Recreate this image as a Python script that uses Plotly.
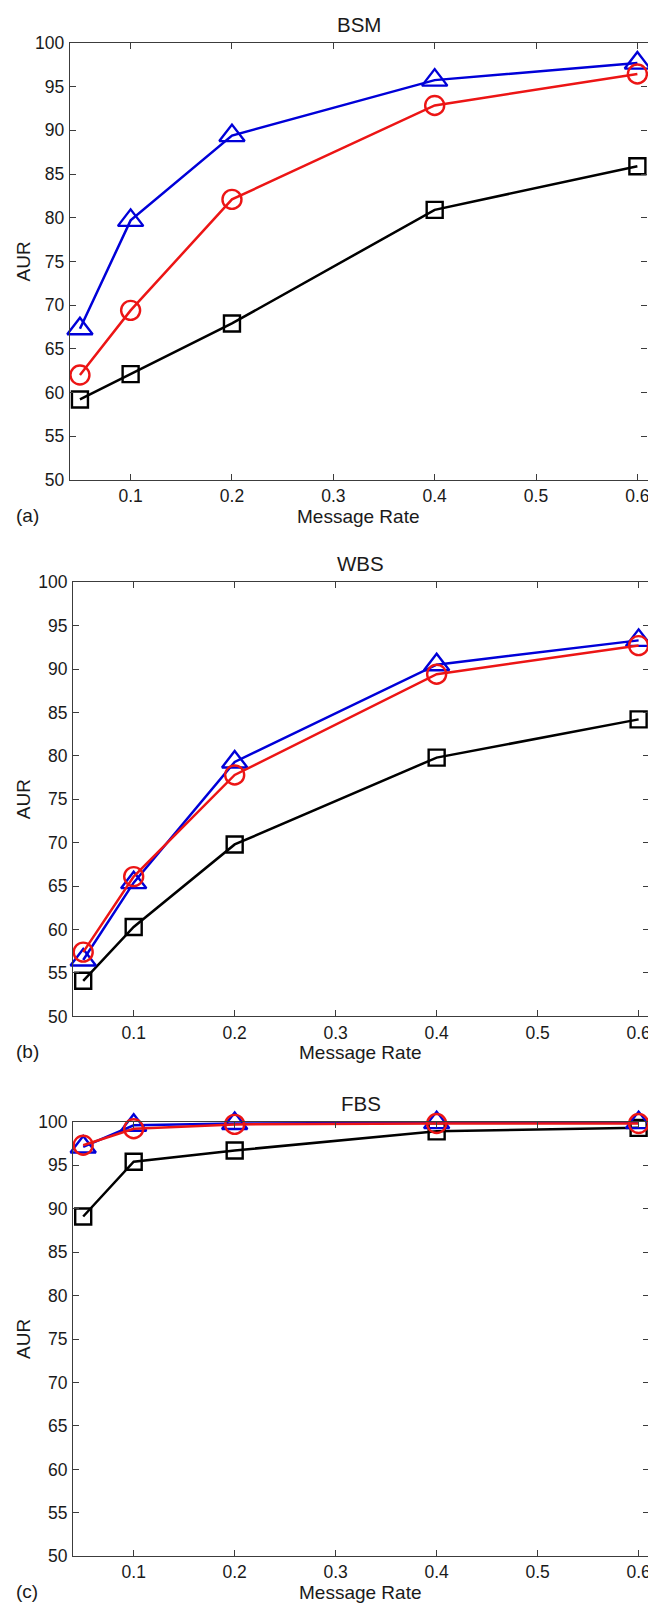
import plotly.graph_objects as go

# The page body has the browser's default 8px margin, so the figure is drawn
# 8px smaller and all page positions are shifted by that offset.
OFF = 8
W, H = 656 - OFF, 1613 - OFF

rate = [0.05, 0.1, 0.2, 0.4, 0.6]

panel_titles = ["BSM", "WBS", "FBS"]
panel_tags = ["(a)", "(b)", "(c)"]

# values per panel: black squares, blue triangles, red circles
bsm_square = [59.2, 62.1, 67.9, 80.9, 85.9]
bsm_triangle = [67.3, 79.7, 89.4, 95.75, 97.7]
bsm_circle = [62.0, 69.4, 82.1, 92.85, 96.45]

wbs_square = [54.1, 60.3, 69.8, 79.8, 84.2]
wbs_triangle = [56.5, 65.4, 79.3, 90.5, 93.3]
wbs_circle = [57.4, 66.1, 77.8, 89.4, 92.7]

fbs_square = [89.1, 95.4, 96.7, 98.9, 99.3]
fbs_triangle = [97.1, 99.6, 99.8, 99.9, 99.9]
fbs_circle = [97.3, 99.2, 99.7, 99.8, 99.8]

x_ticks = [0.1, 0.2, 0.3, 0.4, 0.5, 0.6]
y_ticks = [50, 55, 60, 65, 70, 75, 80, 85, 90, 95, 100]

# plot-area boxes in page pixels: (left, right, top, bottom)
boxes = [(70.0, 649.5, 33.3, 475.7),
         (73.3, 650.7, 579.3, 1019.0),
         (73.3, 650.7, 1125.7, 1565.7)]

FONT = "Liberation Sans, Arial, Helvetica, sans-serif"
AX_COL = "#3c3c3c"
TXT_COL = "#1a1a1a"

data = [(bsm_square, bsm_triangle, bsm_circle),
        (wbs_square, wbs_triangle, wbs_circle),
        (fbs_square, fbs_triangle, fbs_circle)]


def px(xp):
    return (xp - OFF) / W


def py(yp):
    return 1 - (yp - OFF) / H


fig = go.Figure()
annotations = []

for i, ((sq, tri, cir), (l, r, t, b)) in enumerate(zip(data, boxes)):
    n = "" if i == 0 else str(i + 1)
    xa, ya = "x" + n, "y" + n
    series = [
        (sq, "#000000", "square-open", 16),
        (tri, "#0000d8", "triangle-up-open", 22),
        (cir, "#ec1515", "circle-open", 19),
    ]
    for vals, col, sym, size in series:
        fig.add_trace(go.Scatter(
            x=rate, y=vals, xaxis=xa, yaxis=ya, mode="lines+markers",
            line=dict(color=col, width=2.5),
            marker=dict(symbol=sym, size=size, color=col, line=dict(color=col, width=2.4)),
            cliponaxis=False, showlegend=False, hoverinfo="skip"))

    xdom = [px(l), px(r)]
    ydom = [py(b), py(t)]
    common = dict(showline=True, linecolor=AX_COL, linewidth=1.2, mirror="ticks",
                  ticks="inside", ticklen=6, tickwidth=1, tickcolor=AX_COL,
                  showgrid=False, zeroline=False,
                  tickfont=dict(family=FONT, size=17.5, color=TXT_COL))
    fig.update_layout(**{
        ("xaxis" + n): dict(domain=xdom, range=[0.04, 0.61], tickvals=x_ticks,
                             ticktext=[str(v) for v in x_ticks], anchor=ya,
                             ticklabelstandoff=0, **common),
        ("yaxis" + n): dict(domain=ydom, range=[50, 100], tickvals=y_ticks,
                             anchor=xa, ticklabelstandoff=1, **common),
    })
    cx = px((l + r) / 2)
    annotations.append(dict(text=panel_titles[i], x=cx, y=py(t - 19),
                            xref="paper", yref="paper", showarrow=False,
                            xanchor="center", yanchor="middle",
                            font=dict(family=FONT, size=20.5, color=TXT_COL)))
    annotations.append(dict(text="Message Rate", x=cx, y=py(b + 37),
                            xref="paper", yref="paper", showarrow=False,
                            xanchor="center", yanchor="middle",
                            font=dict(family=FONT, size=19, color=TXT_COL)))
    annotations.append(dict(text=panel_tags[i], x=px(27.5), y=py(b + 36),
                            xref="paper", yref="paper", showarrow=False,
                            xanchor="center", yanchor="middle",
                            font=dict(family=FONT, size=19, color=TXT_COL)))
    annotations.append(dict(text="AUR", x=px(23), y=py((t + b) / 2),
                            xref="paper", yref="paper", showarrow=False,
                            textangle=-90, xanchor="center", yanchor="middle",
                            font=dict(family=FONT, size=19, color=TXT_COL)))

fig.update_layout(width=W, height=H, margin=dict(l=0, r=0, t=0, b=0),
                  paper_bgcolor="white", plot_bgcolor="white",
                  annotations=annotations, showlegend=False)

fig.write_html("out.html")
